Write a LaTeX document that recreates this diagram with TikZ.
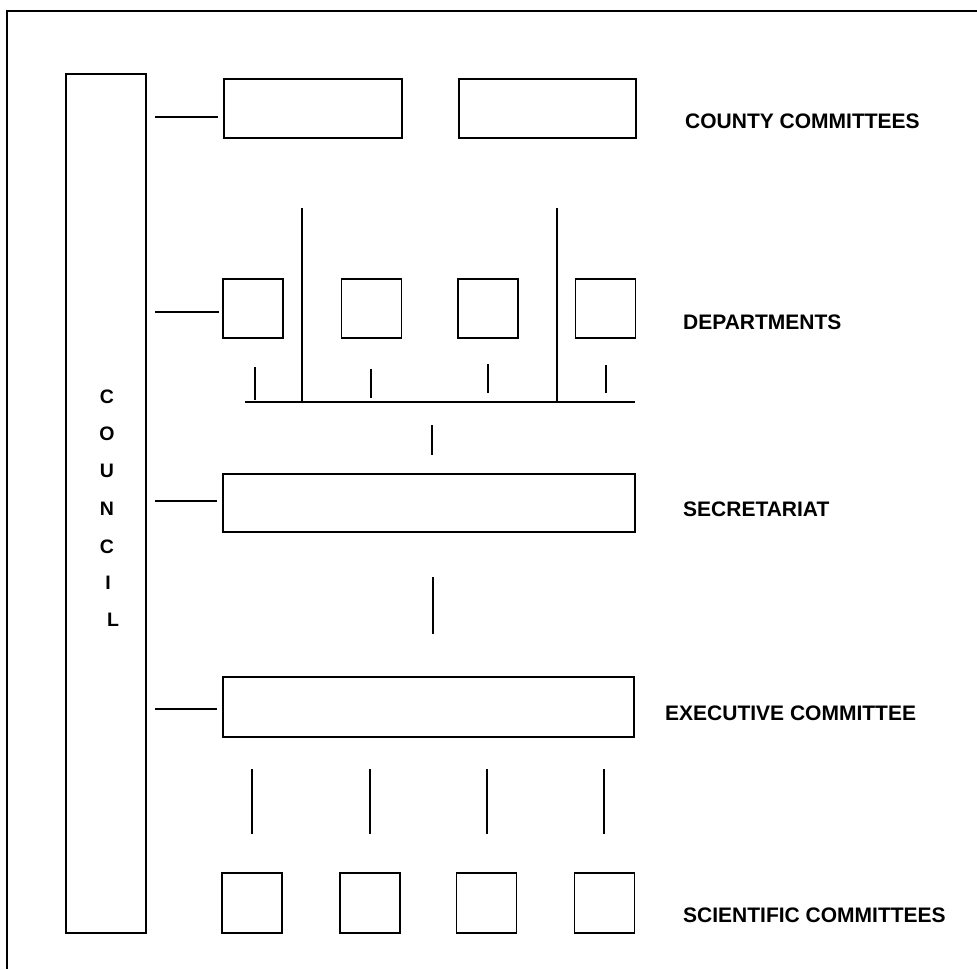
\documentclass[tikz,border=0pt]{standalone}
\usepackage{fontspec}
\setmainfont{Liberation Sans}
\usetikzlibrary{calc}
\begin{document}
\begin{tikzpicture}[x=1pt,y=-1pt,
  box/.style={draw,line width=1.8pt,inner sep=0pt,outer sep=0pt,rectangle},
  conn/.style={line width=1.6pt},
  lbl/.style={anchor=west,inner sep=0pt,font=\bfseries\fontsize{21}{25}\selectfont},
  letter/.style={inner sep=0pt,font=\bfseries\fontsize{19.5}{23}\selectfont}]
\useasboundingbox (0,0) rectangle (977,969);
\fill[white] (0,0) rectangle (977,969);
% frame
\draw[line width=1.6pt] (977,11) -- (7,11) -- (7,969);
% council
\node[box,minimum width=80pt,minimum height=859pt] (council) at (106,503.5) {};
\foreach \l/\yy/\xx [count=\i] in {C/397/107,O/434/107,U/471/107,N/509/107,C/547/107,I/583/108,L/620/113}
  \node[letter] (cl\i) at (\xx,\yy) {\l};
% county committees
\node[box,minimum width=178pt,minimum height=59pt] (cty1) at (313,108.5) {};
\node[box,minimum width=177pt,minimum height=59pt] (cty2) at (547.5,108.5) {};
% departments
\foreach \xx [count=\i] in {253,371.5,488,605.5}
  \node[box,minimum width=60pt,minimum height=59pt] (dep\i) at (\xx,308.5) {};
% secretariat, executive
\node[box,minimum width=412pt,minimum height=58pt] (sec) at (429,503) {};
\node[box,minimum width=411pt,minimum height=60pt] (exe) at (428.5,707) {};
% scientific committees
\foreach \xx [count=\i] in {252,370,486.5,604.5}
  \node[box,minimum width=60pt,minimum height=60pt] (sci\i) at (\xx,903) {};
% council connectors
\draw[conn] ($(council.east |- cty1.west)+(9,8.5)$) -- ($(cty1.west)+(-6,8.5)$);
\draw[conn] ($(council.east |- dep1.west)+(9,3.5)$) -- ($(dep1.west)+(-4,3.5)$);
\draw[conn] ($(council.east |- sec.west)+(9,-2)$) -- ($(sec.west)+(-6,-2)$);
\draw[conn] ($(council.east |- exe.west)+(9,2)$) -- ($(exe.west)+(-6,2)$);
% department bar and verticals
\coordinate (barL) at (245,402);
\coordinate (barR) at (635,402);
\draw[conn] (barL) -- (barR);
\coordinate (tallA) at (302,208);
\coordinate (tallB) at (557,208);
\draw[conn] (tallA) -- (tallA |- barL);
\draw[conn] (tallB) -- (tallB |- barL);
\foreach \xx/\ya/\yb [count=\i] in {255/367/400,371/369/398,488/364/393,606/365/393}{
  \coordinate (dt\i a) at (\xx,\ya);
  \coordinate (dt\i b) at (\xx,\yb);
  \draw[conn] (dt\i a) -- (dt\i b);
}
% bar to secretariat, secretariat to executive
\coordinate (t1a) at (432,425);
\coordinate (t1b) at (432,455);
\draw[conn] (t1a) -- (t1b);
\coordinate (t2a) at (433,577);
\coordinate (t2b) at (433,634);
\draw[conn] (t2a) -- (t2b);
% executive to scientific
\foreach \xx [count=\i] in {252,370,487,604}{
  \coordinate (st\i a) at (\xx,769);
  \coordinate (st\i b) at (\xx,834);
  \draw[conn] (st\i a) -- (st\i b);
}
% labels
\node[lbl] (lcty) at (685,121) {COUNTY COMMITTEES};
\node[lbl] (ldep) at (683,322) {DEPARTMENTS};
\node[lbl] (lsec) at (683,509) {SECRETARIAT};
\node[lbl] (lexe) at (665,713) {EXECUTIVE COMMITTEE};
\node[lbl] (lsci) at (683,915) {SCIENTIFIC COMMITTEES};
\end{tikzpicture}
\end{document}
